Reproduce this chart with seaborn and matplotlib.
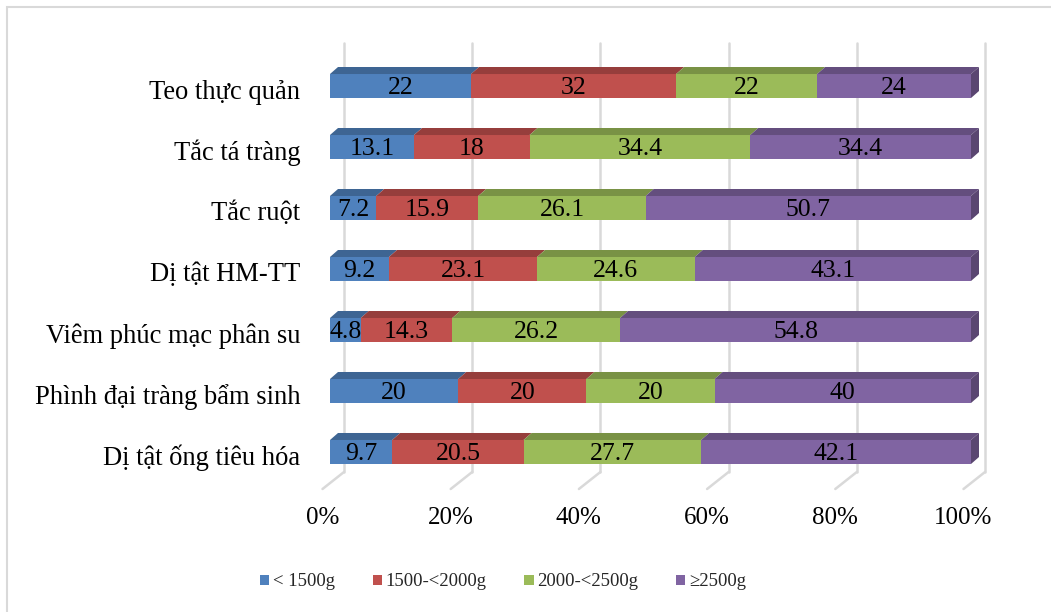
import numpy as np
import pandas as pd
import matplotlib
matplotlib.use("Agg")
import matplotlib.pyplot as plt
from matplotlib.patches import Polygon, Patch, Rectangle
from matplotlib.lines import Line2D
from matplotlib.transforms import ScaledTranslation
import seaborn as sns

categories = ["Teo thực quản", "Tắc tá tràng", "Tắc ruột", "Dị tật HM-TT",
              "Viêm phúc mạc phân su", "Phình đại tràng bẩm sinh", "Dị tật ống tiêu hóa"]
series_names = ["< 1500g", "1500-<2000g", "2000-<2500g", "≥2500g"]
s_lt1500 = [22, 13.1, 7.2, 9.2, 4.8, 20, 9.7]
s_1500_2000 = [32, 18, 15.9, 23.1, 14.3, 20, 20.5]
s_2000_2500 = [22, 34.4, 26.1, 24.6, 26.2, 20, 27.7]
s_ge2500 = [24, 34.4, 50.7, 43.1, 54.8, 40, 42.1]
xticks = [0, 20, 40, 60, 80, 100]
xtick_labels = ["0%", "20%", "40%", "60%", "80%", "100%"]

colors = ["#4F81BD", "#C0504D", "#9BBB59", "#8064A2"]

sns.set_theme(style="white")
plt.rcParams["font.family"] = ["Liberation Serif", "DejaVu Serif"]

raw = np.array([s_lt1500, s_1500_2000, s_2000_2500, s_ge2500], dtype=float)
pct = raw / raw.sum(axis=0) * 100.0
cum = np.cumsum(pct, axis=0)
starts = cum - pct

rows = []
for si, name in enumerate(series_names):
    for ci, cat in enumerate(categories):
        rows.append(dict(category=cat, series=name, value=raw[si, ci],
                         pct=pct[si, ci], cum=cum[si, ci], start=starts[si, ci]))
df = pd.DataFrame(rows)

W, H, DPI = 1051, 612, 100
fig = plt.figure(figsize=(W / DPI, H / DPI), dpi=DPI)
fig.patch.set_facecolor("white")
ax = fig.add_axes([330 / W, (H - 472) / H, 641 / W, (472 - 43) / H])
ax.set_facecolor("none")

bar_w = 24 / 61
for si in reversed(range(len(series_names))):
    sub = df[df.series == series_names[si]]
    sns.barplot(data=sub, x="cum", y="category", order=categories, orient="h",
                color=colors[si], saturation=1, width=bar_w, ax=ax,
                edgecolor="none", linewidth=0, zorder=3)

ax.set_xlim(0, 100)
ax.set_ylim(6.328, -0.705)
for s in ax.spines.values():
    s.set_visible(False)
ax.grid(False)
ax.set_xlabel("")
ax.set_ylabel("")

# tick labels
ax.set_xticks(xticks)
ax.set_xticklabels(xtick_labels, fontsize=18, color="black")
ax.tick_params(axis="x", length=0, pad=25)
shift = ScaledTranslation(-7.5 / DPI, 0, fig.dpi_scale_trans)
for lab in ax.get_xticklabels():
    lab.set_transform(lab.get_transform() + shift)
ax.tick_params(axis="y", length=0, pad=21.5, labelsize=19.1, labelcolor="black")
yshift = ScaledTranslation(0, -3 / DPI, fig.dpi_scale_trans)
for lab in ax.get_yticklabels():
    lab.set_transform(lab.get_transform() + yshift)

# back wall gridlines and floor diagonals
grid_col = "#D9D9D9"
back = ScaledTranslation(14 / DPI, 0, fig.dpi_scale_trans)
for t in xticks:
    ax.add_line(Line2D([t, t], [0, 1], transform=ax.get_xaxis_transform() + back,
                       color=grid_col, lw=1.8, zorder=1, clip_on=False))
fig.canvas.draw()
to_disp = ax.transData.transform
y_bottom_disp = ax.transAxes.transform((0, 0))[1]
for t in xticks:
    xd = to_disp((t, 0))[0]
    ax.add_line(Line2D([xd + 14, xd - 7.5], [y_bottom_disp, y_bottom_disp - 17],
                       transform=None, color=grid_col, lw=1.8, zorder=1, clip_on=False))

# 3D faces
dx, dy = 8, 7
def darker(c, f=0.75):
    r, g, b = matplotlib.colors.to_rgb(c)
    return (r * f, g * f, b * f)

for ci in range(len(categories)):
    ytop = to_disp((0, ci - bar_w / 2))[1]
    ybot = to_disp((0, ci + bar_w / 2))[1]
    for si in range(len(series_names)):
        x0 = to_disp((starts[si, ci], 0))[0]
        x1 = to_disp((cum[si, ci], 0))[0]
        ax.add_patch(Polygon([(x0, ytop), (x1, ytop), (x1 + dx, ytop + dy), (x0 + dx, ytop + dy)],
                             closed=True, transform=None, facecolor=darker(colors[si], 0.78),
                             edgecolor="none", zorder=4, clip_on=False))
    x1 = to_disp((cum[-1, ci], 0))[0]
    ax.add_patch(Polygon([(x1, ybot), (x1, ytop), (x1 + dx, ytop + dy), (x1 + dx, ybot + dy)],
                         closed=True, transform=None, facecolor=darker(colors[-1], 0.7),
                         edgecolor="none", zorder=4, clip_on=False))
    # data labels
    for si in range(len(series_names)):
        xc = starts[si, ci] + pct[si, ci] / 2
        ax.text(xc, ci + 0.03, f"{raw[si, ci]:g}", ha="center", va="center",
                fontsize=18.5, color="black", zorder=6)

# legend
handles = [Patch(facecolor=c, edgecolor="none") for c in colors]
fig.legend(handles, series_names, loc="center", bbox_to_anchor=(503 / W, (H - 582) / H),
           ncol=4, frameon=False, fontsize=13.5, handlelength=0.5, handleheight=0.5,
           handletextpad=0.2, columnspacing=2.0)

# outer border
fig.patches.append(Rectangle((7 / W, -0.05), 1.2, (H - 7) / H + 0.05, transform=fig.transFigure,
                             facecolor="none", edgecolor="#D9D9D9", lw=1.5, zorder=0))

fig.savefig("out.png", dpi=DPI)
